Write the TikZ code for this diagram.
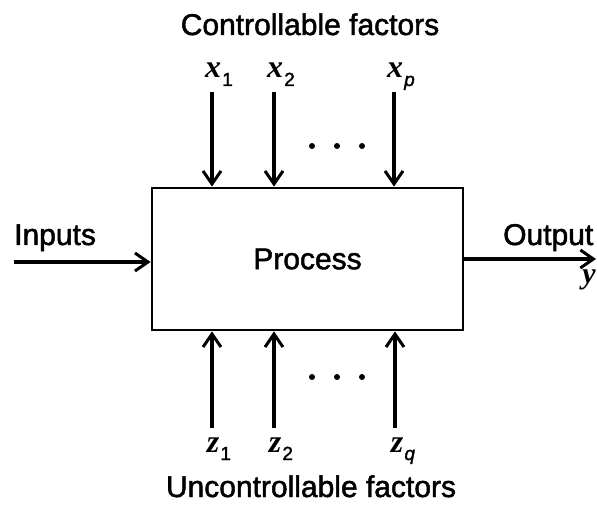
\documentclass[tikz,border=0pt]{standalone}
\usepackage{fontspec}
\setmainfont{Liberation Sans}[FakeBold=1.6, ItalicFeatures={FakeBold=1.6}]
\newfontfamily\varfont{Liberation Serif}[BoldItalicFont={* Bold Italic}]
\usetikzlibrary{arrows.meta}
\newcommand{\lbltext}{\fontsize{30}{36}\selectfont}
\newcommand{\fvar}[2]{{\fontsize{32}{36}\varfont\bfseries\itshape #1}\kern1pt\raisebox{-8pt}{\fontsize{19}{22}\selectfont #2}}
\tikzset{
  flow/.style={line width=3.4pt, -{Straight Barb[length=13pt,width=18pt,line width=3pt]}},
  lbl/.style={inner sep=0pt, anchor=base, font=\lbltext},
  dotmark/.style={circle, fill=black, inner sep=0pt, minimum size=6pt},
}
\begin{document}
\begin{tikzpicture}[x=1pt,y=-1pt]
\useasboundingbox (0,0) rectangle (597,510);
\fill[white] (0,0) rectangle (597,510);

% the process block
\node[draw, line width=2.8pt, minimum width=311pt, minimum height=142pt, inner sep=0pt, font=\lbltext] (proc) at (307.5,259) {Process};

% group headings
\node[lbl] (ctitle) at (310,35) {Controllable factors};
\node[lbl] (utitle) at (311,497) {Uncontrollable factors};

% controllable factors x_1 ... x_p
\node[lbl] (x1) at (219,78) {\fvar{x}{1}};
\node[lbl] (x2) at (281,78) {\fvar{x}{2}};
\node[lbl] (xp) at (401,78) {\fvar{x}{\itshape p}};
\coordinate (x1s) at (212,92);
\coordinate (x2s) at (274,92);
\coordinate (xps) at (394,92);
\draw[flow] (x1s) -- (x1s |- proc.north);
\draw[flow] (x2s) -- (x2s |- proc.north);
\draw[flow] (xps) -- (xps |- proc.north);
\node[dotmark] (dt1) at (312,146) {};
\node[dotmark] (dt2) at (337,146) {};
\node[dotmark] (dt3) at (362,146) {};

% uncontrollable factors z_1 ... z_q
\node[lbl] (z1) at (219,452) {\fvar{z}{1}};
\node[lbl] (z2) at (281,452) {\fvar{z}{2}};
\node[lbl] (zq) at (403,452) {\fvar{z}{\itshape q}};
\coordinate (z1s) at (212,428);
\coordinate (z2s) at (274,428);
\coordinate (zqs) at (395,428);
\draw[flow] (z1s) -- (z1s |- proc.south);
\draw[flow] (z2s) -- (z2s |- proc.south);
\draw[flow] (zqs) -- (zqs |- proc.south);
\node[dotmark] (db1) at (312,377) {};
\node[dotmark] (db2) at (337,377) {};
\node[dotmark] (db3) at (362,377) {};

% inputs and output
\node[lbl, anchor=base west] (inp) at (14,245) {Inputs};
\coordinate (ins) at (14,262);
\draw[flow] (ins) -- (ins -| proc.west);
\node[lbl, anchor=base west] (outp) at (503,245) {Output};
\coordinate (oute) at (596,259);
\draw[flow] (proc.east |- oute) -- (oute);
\node[lbl, anchor=base east] (yout) at (596,284) {\fontsize{30}{36}\varfont\bfseries\itshape y};
\end{tikzpicture}
\end{document}
